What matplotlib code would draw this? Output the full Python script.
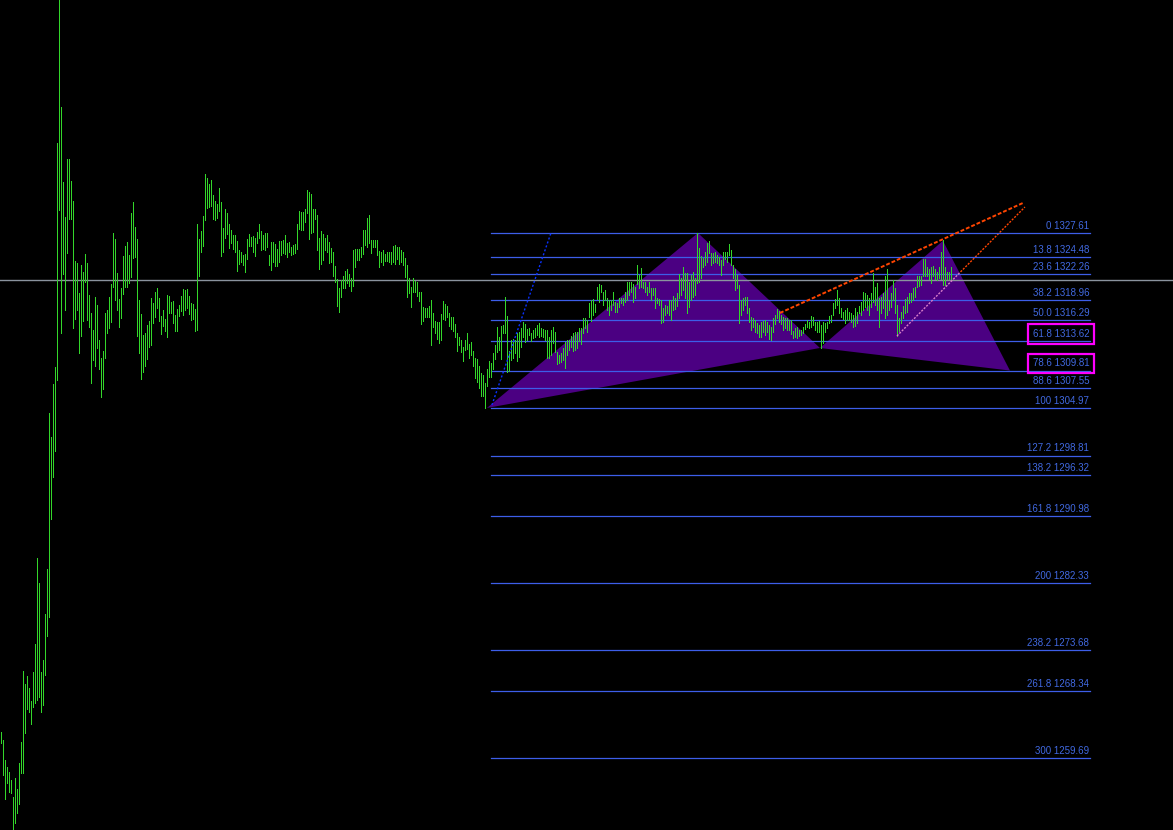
import numpy as np
import matplotlib.pyplot as plt
from matplotlib.patches import Polygon

# bar highs / lows, one per bar
highs = [
  1263.1, 1262.0, 1259.4, 1258.5, 1257.9, 1256.8, 1254.6, 1257.1, 1255.7, 1259.0,
  1261.8, 1270.9, 1269.3, 1270.3, 1268.8, 1267.1, 1270.8, 1274.4, 1285.6, 1282.3,
  1270.8, 1272.4, 1278.3, 1284.1, 1304.3, 1301.2, 1308.1, 1310.3, 1339.3, 1358.5,
  1343.9, 1334.2, 1329.7, 1337.2, 1337.2, 1334.3, 1331.8, 1324.0, 1323.7, 1319.9,
  1323.5, 1322.6, 1324.9, 1323.7, 1319.6, 1317.3, 1315.1, 1319.3, 1318.3, 1313.8,
  1311.4, 1312.3, 1317.3, 1317.7, 1319.3, 1321.0, 1327.6, 1326.8, 1322.4, 1319.1,
  1320.5, 1324.6, 1325.9, 1326.5, 1324.8, 1330.2, 1331.6, 1328.4, 1326.8, 1318.9,
  1317.1, 1314.4, 1314.7, 1315.7, 1316.2, 1319.2, 1318.6, 1320.0, 1320.5, 1319.2,
  1316.9, 1317.7, 1316.5, 1319.6, 1319.5, 1318.7, 1318.8, 1317.0, 1317.8, 1318.3,
  1319.5, 1320.4, 1320.2, 1320.4, 1319.5, 1318.6, 1318.4, 1317.8, 1328.8, 1326.8,
  1327.9, 1329.8, 1335.2, 1334.7, 1333.9, 1334.5, 1332.5, 1331.8, 1331.4, 1333.4,
  1331.6, 1328.3, 1330.7, 1330.2, 1328.8, 1328.0, 1327.4, 1327.4, 1326.6, 1325.4,
  1325.2, 1324.8, 1324.9, 1326.8, 1327.5, 1327.1, 1327.2, 1327.0, 1327.7, 1328.8,
  1327.9, 1327.4, 1327.6, 1327.6, 1324.8, 1326.5, 1326.5, 1326.2, 1325.5, 1326.6,
  1326.6, 1326.7, 1327.4, 1326.3, 1326.5, 1325.8, 1326.1, 1326.2, 1328.8, 1330.5,
  1330.3, 1330.3, 1330.7, 1333.2, 1332.9, 1332.7, 1330.7, 1330.7, 1329.9, 1327.0,
  1327.9, 1327.5, 1327.0, 1327.4, 1326.5, 1325.7, 1325.2, 1323.3, 1321.7, 1320.5,
  1321.5, 1322.1, 1322.7, 1323.0, 1322.3, 1321.8, 1325.4, 1325.5, 1325.5, 1325.5,
  1325.8, 1328.0, 1328.0, 1329.6, 1329.9, 1326.7, 1326.7, 1326.7, 1326.7, 1325.3,
  1325.2, 1325.4, 1324.9, 1325.2, 1325.2, 1325.2, 1325.9, 1326.1, 1325.8, 1325.8,
  1325.4, 1325.2, 1324.4, 1323.5, 1321.8, 1320.6, 1321.8, 1321.4, 1321.3, 1320.0,
  1320.0, 1318.0, 1317.9, 1317.9, 1318.2, 1318.9, 1317.3, 1316.2, 1316.1, 1316.1,
  1317.1, 1318.8, 1318.4, 1318.2, 1317.3, 1316.7, 1316.7, 1315.8, 1314.7, 1314.2,
  1313.8, 1312.9, 1313.8, 1314.7, 1313.3, 1313.5, 1312.3, 1311.4, 1311.3, 1310.4,
  1309.5, 1309.2, 1308.2, 1310.0, 1311.0, 1310.8, 1312.1, 1313.1, 1315.5, 1314.2,
  1315.6, 1315.7, 1319.3, 1316.9, 1312.3, 1313.8, 1313.9, 1313.8, 1314.7, 1314.8,
  1315.3, 1316.1, 1315.8, 1315.2, 1315.3, 1314.7, 1315.1, 1315.3, 1315.7, 1316.0,
  1315.3, 1315.2, 1315.1, 1315.1, 1314.2, 1315.1, 1315.5, 1314.8, 1312.2, 1311.8,
  1312.1, 1312.7, 1313.5, 1313.8, 1313.8, 1314.3, 1314.7, 1314.8, 1314.8, 1315.3,
  1315.3, 1316.6, 1316.6, 1316.4, 1318.6, 1318.9, 1319.1, 1318.4, 1320.6, 1321.0,
  1320.9, 1320.0, 1320.2, 1319.2, 1318.9, 1318.9, 1320.0, 1318.7, 1318.6, 1319.2,
  1319.2, 1319.2, 1320.0, 1321.3, 1321.3, 1321.3, 1321.0, 1320.6, 1323.5, 1322.2,
  1323.1, 1321.3, 1321.3, 1320.6, 1321.3, 1320.5, 1320.5, 1320.5, 1319.2, 1319.1,
  1318.9, 1317.9, 1318.3, 1318.2, 1318.9, 1318.9, 1319.5, 1319.2, 1319.9, 1322.3,
  1321.8, 1323.2, 1322.4, 1322.4, 1321.3, 1322.2, 1322.6, 1321.8, 1327.6, 1325.7,
  1324.6, 1324.4, 1325.2, 1326.3, 1326.6, 1325.0, 1325.0, 1325.2, 1324.8, 1324.5,
  1324.1, 1325.2, 1325.2, 1325.2, 1326.2, 1325.4, 1323.5, 1322.9, 1322.2, 1320.9,
  1318.9, 1319.2, 1319.3, 1319.3, 1317.9, 1316.7, 1316.6, 1316.4, 1316.0, 1315.7,
  1316.1, 1316.2, 1316.4, 1316.1, 1315.7, 1315.5, 1316.6, 1317.0, 1317.8, 1317.5,
  1317.0, 1316.7, 1316.6, 1316.6, 1316.4, 1316.4, 1314.9, 1315.3, 1315.5, 1315.1,
  1315.1, 1315.5, 1315.8, 1316.4, 1316.1, 1316.9, 1316.7, 1316.1, 1316.1, 1316.2,
  1315.7, 1316.1, 1316.0, 1316.1, 1316.9, 1317.0, 1318.6, 1319.1, 1320.2, 1319.2,
  1317.9, 1317.4, 1317.7, 1317.9, 1317.4, 1317.3, 1317.0, 1317.9, 1317.4, 1318.2,
  1318.7, 1320.0, 1319.9, 1319.6, 1319.2, 1319.8, 1322.4, 1320.6, 1321.1, 1319.2,
  1319.3, 1319.9, 1322.0, 1322.9, 1318.9, 1319.9, 1321.5, 1320.5, 1318.3, 1316.6,
  1317.4, 1318.2, 1319.1, 1319.3, 1319.9, 1319.9, 1320.5, 1320.6, 1322.0, 1322.0,
  1322.1, 1324.2, 1324.3, 1323.2, 1322.9, 1323.2, 1323.3, 1323.0, 1322.6, 1323.2,
  1325.1, 1326.7, 1323.2, 1322.6, 1322.6, 1323.2]

lows = [
  1261.6, 1257.5, 1254.4, 1256.5, 1255.3, 1255.2, 1250.0, 1251.3, 1252.6, 1253.7,
  1257.8, 1257.8, 1262.9, 1266.0, 1265.6, 1264.1, 1266.3, 1266.8, 1267.2, 1267.6,
  1265.6, 1266.5, 1270.4, 1275.5, 1277.9, 1290.6, 1296.0, 1299.4, 1308.6, 1330.6,
  1314.7, 1322.3, 1317.7, 1325.0, 1329.4, 1329.4, 1315.3, 1316.5, 1317.7, 1312.1,
  1314.3, 1316.2, 1321.3, 1316.4, 1315.5, 1308.2, 1311.2, 1310.4, 1312.7, 1310.0,
  1306.4, 1307.4, 1311.4, 1314.7, 1315.3, 1316.1, 1320.6, 1318.9, 1317.7, 1315.5,
  1316.6, 1319.7, 1320.6, 1320.6, 1321.1, 1321.9, 1324.4, 1324.5, 1314.3, 1312.1,
  1308.7, 1309.6, 1310.4, 1311.3, 1312.9, 1313.1, 1316.0, 1316.7, 1317.9, 1316.2,
  1314.5, 1315.6, 1314.9, 1314.2, 1317.3, 1317.3, 1316.0, 1314.9, 1314.9, 1316.9,
  1317.5, 1317.0, 1317.7, 1317.9, 1317.1, 1316.4, 1316.5, 1314.9, 1315.1, 1322.1,
  1325.2, 1325.9, 1329.3, 1330.9, 1331.0, 1331.1, 1329.4, 1329.3, 1329.6, 1330.5,
  1324.6, 1325.2, 1327.0, 1327.5, 1325.7, 1326.3, 1325.5, 1325.2, 1322.7, 1323.6,
  1323.9, 1323.5, 1322.6, 1324.3, 1325.9, 1325.9, 1325.2, 1324.6, 1326.3, 1327.0,
  1325.4, 1325.5, 1325.4, 1325.8, 1323.5, 1322.8, 1323.9, 1323.3, 1323.3, 1323.9,
  1324.8, 1325.0, 1324.9, 1324.5, 1325.2, 1324.8, 1324.9, 1325.0, 1325.5, 1328.1,
  1328.0, 1328.0, 1329.0, 1330.2, 1326.8, 1327.6, 1327.7, 1329.4, 1325.4, 1323.0,
  1323.6, 1324.1, 1325.4, 1325.2, 1323.7, 1323.9, 1322.1, 1321.3, 1318.2, 1317.4,
  1319.3, 1320.5, 1320.5, 1321.1, 1320.8, 1320.1, 1320.8, 1323.2, 1324.1, 1324.1,
  1324.5, 1324.9, 1326.1, 1325.8, 1326.3, 1325.0, 1325.8, 1325.8, 1324.8, 1323.2,
  1323.9, 1323.5, 1324.0, 1324.0, 1323.9, 1323.6, 1323.9, 1323.6, 1324.3, 1323.6,
  1323.9, 1323.5, 1321.9, 1319.3, 1319.9, 1318.0, 1320.0, 1320.0, 1319.5, 1318.8,
  1315.8, 1316.2, 1316.7, 1316.7, 1316.7, 1313.1, 1315.5, 1314.7, 1313.9, 1313.4,
  1313.8, 1316.5, 1316.4, 1316.7, 1315.6, 1315.2, 1314.9, 1314.2, 1312.3, 1313.1,
  1312.2, 1311.0, 1312.5, 1312.6, 1311.4, 1311.8, 1310.4, 1308.9, 1308.3, 1307.6,
  1306.5, 1306.5, 1305.0, 1307.8, 1309.0, 1309.0, 1310.0, 1311.3, 1312.2, 1312.5,
  1311.3, 1314.7, 1314.7, 1309.6, 1309.8, 1311.2, 1311.4, 1312.1, 1311.0, 1311.6,
  1312.9, 1314.2, 1313.5, 1313.8, 1314.4, 1313.6, 1314.0, 1314.2, 1314.4, 1314.2,
  1314.3, 1314.2, 1313.8, 1311.4, 1311.4, 1311.8, 1313.4, 1312.2, 1310.7, 1310.8,
  1310.9, 1311.2, 1310.1, 1311.8, 1312.5, 1312.9, 1312.3, 1312.5, 1312.7, 1313.6,
  1313.3, 1314.7, 1315.3, 1314.8, 1316.7, 1316.2, 1317.0, 1317.4, 1319.1, 1318.7,
  1320.0, 1318.3, 1318.9, 1317.7, 1317.0, 1317.7, 1318.3, 1317.4, 1317.4, 1318.0,
  1318.6, 1318.3, 1318.7, 1318.9, 1319.6, 1320.0, 1318.7, 1319.2, 1321.0, 1320.5,
  1320.6, 1320.5, 1320.0, 1319.6, 1320.0, 1318.9, 1319.6, 1317.9, 1318.6, 1318.3,
  1316.0, 1316.1, 1317.0, 1317.3, 1317.0, 1316.4, 1317.7, 1317.8, 1318.2, 1319.2,
  1319.6, 1320.2, 1319.2, 1317.3, 1318.0, 1318.9, 1319.3, 1319.6, 1321.2, 1321.3,
  1321.8, 1323.2, 1323.5, 1323.9, 1325.0, 1323.5, 1323.7, 1323.9, 1323.7, 1323.5,
  1322.2, 1323.5, 1324.3, 1323.9, 1324.8, 1323.5, 1321.8, 1320.2, 1320.5, 1316.0,
  1317.0, 1317.7, 1318.3, 1317.3, 1316.1, 1315.1, 1315.5, 1314.8, 1314.7, 1314.2,
  1314.2, 1314.8, 1314.4, 1314.8, 1313.9, 1313.8, 1314.8, 1315.8, 1316.6, 1316.1,
  1315.8, 1315.1, 1315.3, 1315.1, 1315.1, 1314.5, 1314.0, 1314.2, 1314.0, 1314.3,
  1314.4, 1314.7, 1315.2, 1315.5, 1315.3, 1315.5, 1315.7, 1315.1, 1314.8, 1314.8,
  1312.7, 1313.4, 1314.8, 1315.3, 1316.0, 1316.1, 1317.0, 1317.9, 1318.3, 1317.3,
  1316.7, 1316.5, 1316.0, 1316.4, 1316.4, 1316.1, 1315.5, 1315.6, 1316.0, 1317.3,
  1317.0, 1317.7, 1318.0, 1317.7, 1317.0, 1318.0, 1318.7, 1318.3, 1317.7, 1315.5,
  1317.3, 1317.9, 1316.6, 1317.0, 1317.7, 1318.0, 1318.9, 1317.3, 1314.3, 1314.9,
  1316.0, 1316.6, 1317.3, 1317.4, 1318.6, 1318.7, 1318.9, 1319.3, 1320.6, 1320.8,
  1320.9, 1322.0, 1322.1, 1322.0, 1321.6, 1321.1, 1322.0, 1321.6, 1321.5, 1321.8,
  1321.6, 1320.9, 1320.9, 1321.6, 1321.6, 1321.6]

# harmonic pattern X, A, B, C, D  (bar index, price)
pat_x = [242.8, 348.3, 409.3, 470.8, 504.3]
pat_y = [1304.97, 1327.61, 1312.73, 1326.60, 1309.81]

# fibonacci levels
fib_lvls = ["0", "13.8", "23.6", "38.2", "50.0", "61.8", "78.6", "88.6", "100",
            "127.2", "138.2", "161.8", "200", "238.2", "261.8", "300"]
fib_prices = [1327.61, 1324.48, 1322.26, 1318.96, 1316.29, 1313.62, 1309.81, 1307.55,
              1304.97, 1298.81, 1296.32, 1290.98, 1282.33, 1273.68, 1268.34, 1259.69]
fib_x = [244.8, 544.3]
boxed = ["61.8", "78.6"]

bid = 1321.53

# trend lines
top_x = [389.3, 510.8]
top_y = [1317.26, 1331.49]
low_x = [447.8, 511.8]
low_y = [1314.28, 1330.97]
ray_x = [245.3, 274.8]
ray_y = [1305.35, 1327.61]

fig = plt.figure(figsize=(11.73, 8.30), dpi=100, facecolor='black')
ax = fig.add_axes([0, 0, 1, 1])
ax.set_facecolor('black')
ax.set_xlim(-0.67, 585.83)
ax.set_ylim(1250.37, 1357.75)
ax.axis('off')

# pattern triangles
xab = Polygon(list(zip(pat_x[0:3], pat_y[0:3])), closed=True, fc='#4b0082', ec='none', zorder=1)
bcd = Polygon(list(zip(pat_x[2:5], pat_y[2:5])), closed=True, fc='#4b0082', ec='none', zorder=1)
ax.add_patch(xab)
ax.add_patch(bcd)

# fib levels
for lvl, p in zip(fib_lvls, fib_prices):
  ax.plot(fib_x, [p, p], color='#3d5ee8', lw=0.9, zorder=2)
  box = None
  if lvl in boxed:
    box = dict(boxstyle='square,pad=0.5', fc='none', ec='#ff00ff', lw=1.6)
  ax.annotate(f"{lvl} {p:.2f}", xy=(fib_x[1], p), xytext=(-0.5, 1.5),
              textcoords='offset points', ha='right', va='bottom',
              color='#4169e1', fontsize=7, family='Liberation Sans',
              bbox=box, zorder=6)

ax.axhline(bid, color='#8a939e', lw=1.0, zorder=2)

# bars
idx = np.arange(len(highs))
ax.vlines(idx, lows, highs, colors='#33d62a', lw=0.5, antialiased=False, zorder=3)

# lines
ax.plot(top_x, top_y, color='#ff4500', lw=1.4, ls=(0, (2, 1)), zorder=4)
ax.plot(low_x, low_y, color='#ff4500', lw=1.0, ls=(0, (1.5, 1)), zorder=0.5)
inner, = ax.plot(low_x, low_y, color='#d77cc8', lw=1.0, ls=(0, (1.5, 1)), zorder=4)
inner.set_clip_path(bcd)
ax.plot(ray_x, ray_y, color='#0a32ff', lw=1.0, ls=(0, (1.5, 1.5)), zorder=4)

fig.savefig('out.png', dpi=100, facecolor='black')
